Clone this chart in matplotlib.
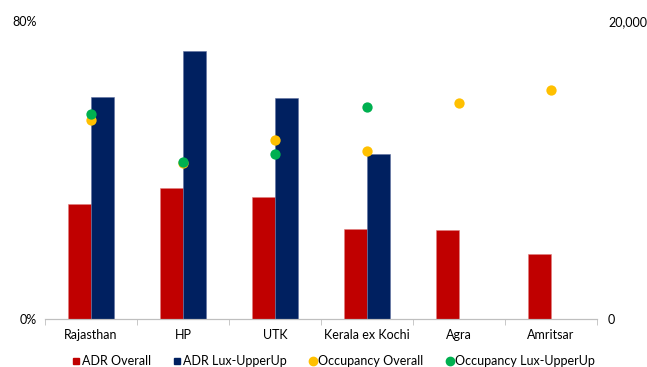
import numpy as np
import matplotlib.pyplot as plt
from matplotlib.lines import Line2D

# 地域別 ADR（右軸）と稼働率（左軸）
regions = ['Rajasthan', 'HP', 'UTK', 'Kerala ex Kochi', 'Agra', 'Amritsar']
adr_overall = [7730, 8780, 8200, 6030, 5950, 4360]
adr_lux = [14870, 17990, 14840, 11060, np.nan, np.nan]
occ_overall = [53.4, 41.8, 48.0, 45.1, 58.0, 61.5]
occ_lux = [54.9, 42.2, 44.3, 56.8, np.nan, np.nan]

RED = '#C00000'
NAVY = '#002060'
YELLOW = '#FFC000'
GREEN = '#00B050'

plt.rcParams['font.family'] = ['Lato', 'DejaVu Sans']

fig = plt.figure(figsize=(6.47, 3.67), dpi=100)
ax = fig.add_axes([0.0696, 0.1308, 0.8531, 0.8128])
ax2 = ax.twinx()

x = np.arange(len(regions))
w = 0.245

# 棒グラフは右軸、散布点は左軸
ax2.bar(x - w / 2, adr_overall, width=w, color=RED, edgecolor='#E08080', linewidth=0.4)
ax2.bar(x + w / 2, adr_lux, width=w, color=NAVY, edgecolor='#6070A0', linewidth=0.4)
ax2.set_ylim(0, 20000)
ax2.set_yticks([0, 20000])
ax2.set_yticklabels(['0', '20,000'], fontsize=9)

ax.set_zorder(ax2.get_zorder() + 1)
ax.patch.set_visible(False)
ax.scatter(x, occ_overall, s=55, color=YELLOW, zorder=3, linewidths=0)
ax.scatter(x, occ_lux, s=55, color=GREEN, zorder=4, linewidths=0)
ax.set_ylim(0, 80)
ax.set_xlim(-0.5, len(regions) - 0.5)
ax.set_yticks([0, 80])
ax.set_yticklabels(['0%', '80%'], fontsize=9)

ax.set_xticks(x)
ax.set_xticklabels(regions, fontsize=9)
ax.set_xticks(np.arange(-0.5, len(regions), 1), minor=True)
ax.tick_params(axis='x', which='major', length=0, pad=7)
ax.tick_params(axis='x', which='minor', length=4, color='#BFBFBF')
ax.tick_params(axis='y', length=0, pad=6)
ax2.tick_params(axis='y', length=0, pad=8)

for a in (ax, ax2):
    for side in ('top', 'left', 'right'):
        a.spines[side].set_visible(False)
    a.spines['bottom'].set_color('#BFBFBF')
    a.spines['bottom'].set_linewidth(0.8)

handles = [
    Line2D([], [], marker='s', color='none', markerfacecolor=RED, markeredgecolor=RED, markersize=5),
    Line2D([], [], marker='s', color='none', markerfacecolor=NAVY, markeredgecolor=NAVY, markersize=5),
    Line2D([], [], marker='o', color='none', markerfacecolor=YELLOW, markeredgecolor=YELLOW, markersize=6),
    Line2D([], [], marker='o', color='none', markerfacecolor=GREEN, markeredgecolor=GREEN, markersize=6),
]
labels = ['ADR Overall', 'ADR Lux-UpperUp', 'Occupancy Overall', 'Occupancy Lux-UpperUp']
fig.legend(handles, labels, loc='center', bbox_to_anchor=(0.515, 0.016), ncol=4,
           frameon=False, fontsize=9, handletextpad=0.05, columnspacing=1.7,
           handlelength=0.8)

fig.savefig('out.png', dpi=100)
